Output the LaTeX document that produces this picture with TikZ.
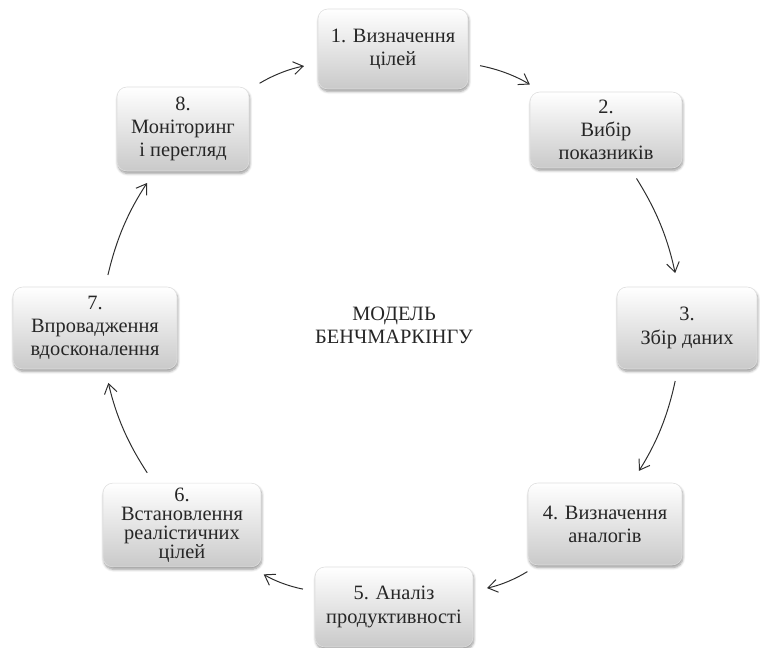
\documentclass[tikz,border=0pt]{standalone}
\usepackage{fontspec}
\setmainfont{Liberation Serif}
\usetikzlibrary{shadows.blur, arrows.meta}
\tikzset{
    stage/.style = {
        rectangle, rounded corners=7pt,
        draw=gray!25, line width=0.4pt,
        top color=white, bottom color=gray!42,
        minimum height=2cm,
        align=center, text=black!85,
        font=\fontsize{14.5}{16.5}\selectfont,
        blur shadow={shadow xshift=0.6pt, shadow yshift=-1.8pt,
            shadow blur steps=6, shadow opacity=40}
    },
    title/.style = {
        align=center, text=black!85,
        font=\fontsize{14.5}{16.5}\selectfont
    },
    arrow/.style = {
        -{Straight Barb[length=2.4mm, width=3.2mm]},
        draw=gray!35!black, line width=0.7pt,
        shorten <=0.3cm, shorten >=0.35cm,
        bend left=10
    }
}
\begin{document}
\begin{tikzpicture}

\useasboundingbox (0,0) rectangle (19,-16.2);

\node (n1) [stage, minimum width=3.75cm] at (9.825,-1.225) {1. Визначення\\ цілей};
\node (n2) [stage, minimum width=3.8cm, minimum height=1.9cm] at (15.15,-3.25) {2.\\ Вибір\\ показників};
\node (n3) [stage, minimum width=3.5cm, minimum height=2.05cm] at (17.175,-8.2) {3.\\ Збір даних};
\node (n4) [stage, minimum width=3.85cm, minimum height=2.05cm] at (15.125,-13.1) {4. Визначення\\ аналогів};
\node (n5) [stage, minimum width=3.95cm] at (9.85,-15.175) {5. Аналіз\\ продуктивності};
\node (n6) [stage, minimum width=3.95cm, minimum height=2.05cm,
    font=\fontsize{14.5}{13.5}\selectfont] at (4.55,-13.125) {6.\\ Встановлення\\ реалістичних\\ цілей};
\node (n7) [stage, minimum width=4.1cm, minimum height=2.05cm] at (2.375,-8.2) {7.\\ Впровадження\\ вдосконалення};
\node (n8) [stage, minimum width=3.3cm, minimum height=2.1cm] at (4.575,-3.225) {8.\\ Моніторинг\\ і перегляд};

\node (model) [title] at (9.85,-8.125) {МОДЕЛЬ\\ БЕНЧМАРКІНГУ};

\draw [arrow] (n8) to (n1);
\draw [arrow] (n1) to (n2);
\draw [arrow] (n2) to (n3);
\draw [arrow] (n3) to (n4);
\draw [arrow] (n4) to (n5);
\draw [arrow] (n5) to (n6);
\draw [arrow] (n6) to (n7);
\draw [arrow] (n7) to (n8);

\end{tikzpicture}
\end{document}
